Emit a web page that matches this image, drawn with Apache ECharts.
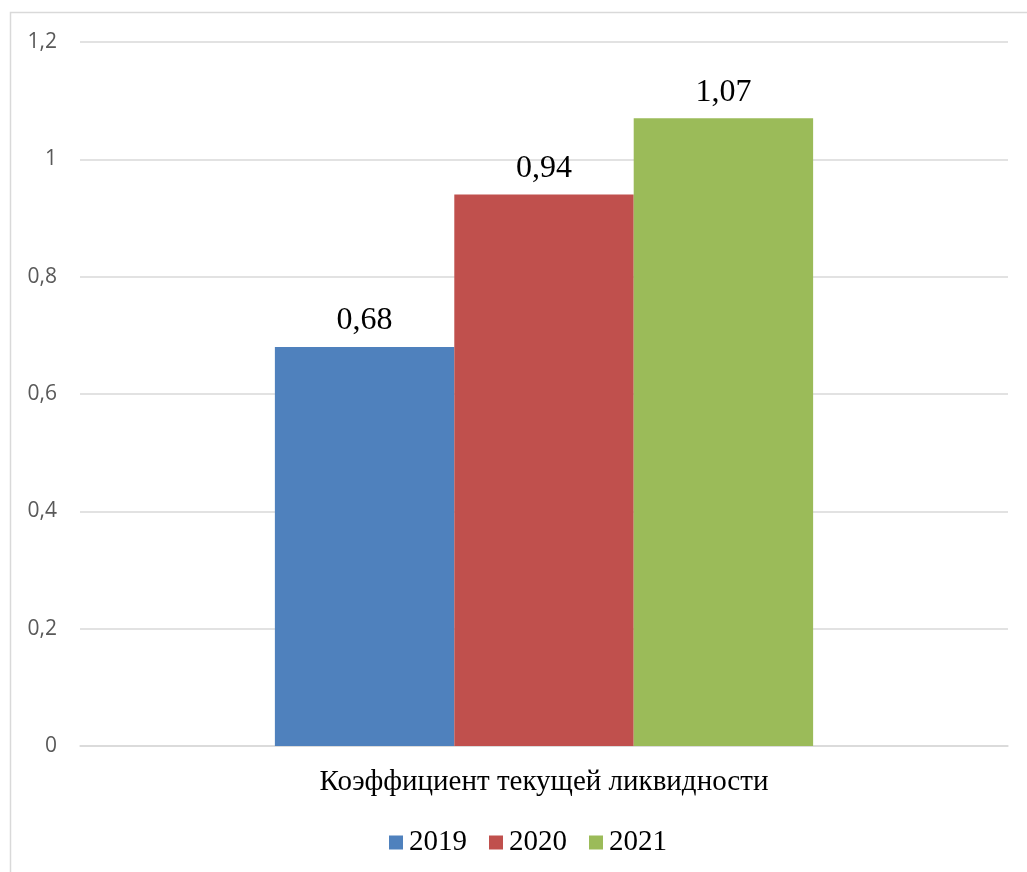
<!DOCTYPE html>
<html><head><meta charset="utf-8">
<script src="https://cdn.jsdelivr.net/npm/echarts@6/dist/echarts.min.js"></script>
<style>html,body{margin:0;padding:0;background:#fff}#c{width:1027px;height:872px}</style>
</head><body><div id="c"></div>
<script>
const categories = ['Коэффициент текущей ликвидности'];
const seriesNames = ['2019', '2020', '2021'];
const values2019 = [0.68];
const values2020 = [0.94];
const values2021 = [1.07];
const colors = ['#4f81bd', '#c0504d', '#9bbb59'];
const allValues = [values2019, values2020, values2021];

const chart = echarts.init(document.getElementById('c'));
const fmt = v => String(v).replace('.', ',');
chart.setOption({
  animation: false,
  graphic: [{type:'rect', shape:{x:10.5, y:12.5, width:1100, height:1000}, style:{fill:'none', stroke:'#d9d9d9', lineWidth:1.5}, silent:true}],
  grid: {left: 80, right: 19, top: 42, bottom: 126, containLabel: false},
  legend: {
    bottom: 10, left: 384, itemWidth: 14, itemHeight: 14, itemGap: 22,
    icon: 'rect',
    textStyle: {fontFamily: 'Liberation Serif', fontSize: 29, color: '#000', padding: [0,0,0,1]}
  },
  xAxis: {
    type: 'category', data: categories,
    axisLine: {lineStyle: {color: '#d9d9d9', width: 1.5}},
    axisTick: {show: false},
    axisLabel: {fontFamily: 'Liberation Serif', fontSize: 29, color: '#000', margin: 22}
  },
  yAxis: {
    type: 'value', min: 0, max: 1.2, interval: 0.2,
    axisLine: {show: false}, axisTick: {show: false},
    splitLine: {lineStyle: {color: '#d9d9d9', width: 1.5}},
    axisLabel: {fontFamily: 'Open Sans', fontSize: 21, color: '#595959', margin: 23,
      formatter: v => fmt(Math.round(v * 10) / 10)}
  },
  series: seriesNames.map((n, i) => ({
    name: n, type: 'bar', data: allValues[i],
    barGap: '0%', barCategoryGap: '42%',
    itemStyle: {color: colors[i]},
    label: {show: true, position: 'top', distance: 10, fontFamily: 'Liberation Serif', fontSize: 32, color: '#000',
      formatter: p => fmt(p.value.toFixed(2))}
  }))
});
</script></body></html>
